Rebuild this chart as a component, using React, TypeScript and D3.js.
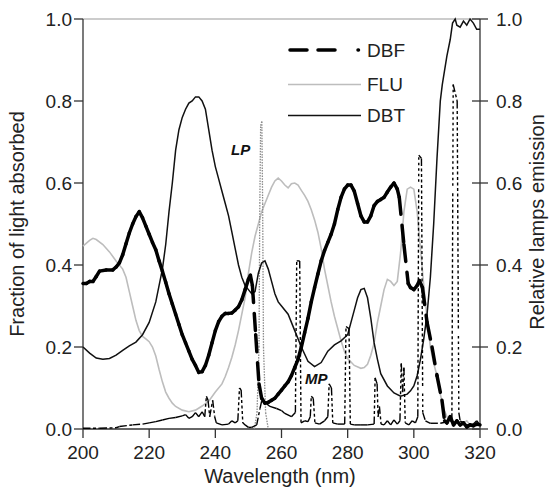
import React from "react";
import * as d3 from "d3";

// ---- data ----
const DBF_WL = [200,201,202,203,204,205,207,209,210,211,212,213,214,215,216,217,218,219,220,221,222,223,224,225,226,227,228,229,230,231,232,233,234,235,236,237,238,239,240,241,242,243,244,245,246,247,248,249,250,250.6,251.2,252.2,253.2,254,255,256,257,258,259,260,261,262,263,264,265,266,267,268,269,270,271,272,273,274,275,276,277,278,279,280,281,282,283,284,285,286,287,288,289,290,291,292,293,294,295,295.6,297,298.3,299,300,301,301.7,302.6,304,305.5,307,308.5,309.3,310,311,312,313,314,315,316,317,318,319,320];
const DBF_VAL = [0.355,0.355,0.36,0.36,0.372,0.385,0.388,0.388,0.395,0.405,0.425,0.452,0.478,0.5,0.518,0.53,0.515,0.495,0.475,0.455,0.437,0.41,0.385,0.358,0.33,0.305,0.28,0.255,0.23,0.21,0.19,0.17,0.155,0.138,0.14,0.155,0.18,0.21,0.24,0.262,0.275,0.282,0.282,0.283,0.29,0.298,0.315,0.34,0.365,0.375,0.35,0.23,0.11,0.075,0.063,0.065,0.07,0.075,0.085,0.095,0.105,0.115,0.13,0.15,0.17,0.2,0.235,0.27,0.31,0.345,0.378,0.41,0.435,0.455,0.475,0.5,0.535,0.565,0.585,0.595,0.595,0.58,0.55,0.52,0.505,0.505,0.52,0.545,0.555,0.56,0.565,0.578,0.59,0.6,0.585,0.565,0.45,0.355,0.345,0.34,0.35,0.362,0.345,0.26,0.2,0.13,0.07,0.02,0.015,0.03,0.01,0.02,0.01,0.015,0.005,0.01,0.008,0.012,0.01];

const FLU_WL = [200,202,203,204,206,208,210,212,213,214,215,216,217,218,219,220,221,222,223,224,225,226,227,228,230,232,234,236,238,240,242,243,244,245,246,247,248,249,250,251,252,253,254,255,256,257,258,259,260,261,262,263,264,265,266,267,268,269,270,271,272,273,274,275,276,277,278,279,280,282,284,285,286,287,288,289,290,291,292,293,294,295,296,297,298,299,300,301,302,303,304,305,306,307,308,309,310,311,312,313,314,315,316,317,318,319,320];
const FLU_VAL = [0.446,0.46,0.465,0.462,0.45,0.432,0.41,0.39,0.37,0.335,0.3,0.265,0.24,0.226,0.22,0.213,0.2,0.178,0.145,0.115,0.09,0.075,0.063,0.055,0.046,0.042,0.046,0.056,0.068,0.09,0.11,0.128,0.15,0.175,0.205,0.24,0.28,0.32,0.38,0.43,0.47,0.5,0.53,0.55,0.57,0.59,0.605,0.612,0.605,0.595,0.588,0.598,0.6,0.595,0.582,0.57,0.555,0.535,0.51,0.48,0.44,0.39,0.35,0.31,0.275,0.245,0.215,0.19,0.172,0.155,0.148,0.15,0.158,0.18,0.21,0.26,0.3,0.34,0.365,0.36,0.35,0.36,0.43,0.53,0.585,0.59,0.585,0.53,0.44,0.35,0.27,0.2,0.16,0.13,0.085,0.05,0.03,0.022,0.015,0.02,0.01,0.015,0.02,0.01,0.012,0.008,0.01];

const DBT_WL = [200,202,204,206,208,210,212,214,216,218,220,222,224,225,226,227,228,229,230,231,232,233,234,235,236,237,238,239,240,241,242,243,244,245,246,247,248,249,250,251,252,253,254,255,256,257,258,259,260,262,264,266,268,270,272,274,276,278,280,281,282,283,284,285,286,287,288,289,290,292,294,296,298,299,300,301,302,303,304,305,306,307,308,308.6,309,310,311,311.7,312.5,313,314,315,316,317,318,319,320];
const DBT_VAL = [0.2,0.185,0.173,0.17,0.172,0.18,0.192,0.203,0.212,0.23,0.26,0.31,0.39,0.45,0.53,0.6,0.68,0.73,0.76,0.78,0.795,0.8,0.81,0.81,0.8,0.78,0.73,0.68,0.64,0.61,0.58,0.55,0.52,0.48,0.44,0.4,0.37,0.35,0.34,0.33,0.335,0.38,0.405,0.41,0.39,0.36,0.33,0.31,0.3,0.28,0.24,0.2,0.165,0.152,0.162,0.19,0.205,0.215,0.23,0.26,0.29,0.32,0.34,0.343,0.32,0.27,0.21,0.17,0.135,0.105,0.088,0.08,0.085,0.093,0.105,0.13,0.17,0.22,0.28,0.37,0.5,0.66,0.8,0.84,0.86,0.91,0.95,0.99,1.0,0.985,0.98,0.995,0.985,1.0,0.99,0.975,0.975];

const LP_WL = [251.8,252.6,253.2,253.45,253.7,254.05,254.3,254.55,255.2,256];
const LP_VAL = [0,0.04,0.2,0.55,0.74,0.75,0.55,0.2,0.04,0];

const MP_WL = [200,205,210,211,215,218,220,222,224,226,228,230,231,232,233,234,235,236,236.8,237.3,237.8,238.3,239.2,239.8,240.3,242,244,245,246,246.8,247.3,247.8,248.3,249,250,251,252.5,253.5,254.2,255,256.5,258.5,260,261,263,264.2,264.6,265.5,265.9,267,268,268.7,269,269.6,270.1,271.5,273,274,274.4,275.1,275.5,277,279.1,279.5,280.4,280.8,282,284,286,288,288.3,288.9,289.2,289.6,290.1,291,292,293,294,295,295.8,296.2,296.6,297,297.4,298.5,299.5,300.5,301.2,301.5,302.3,302.7,303.5,305,308,311.5,311.9,313.1,313.6,314,316,318,319,320];
const MP_VAL = [0.002,0.002,0.003,0.006,0.01,0.012,0.015,0.018,0.022,0.026,0.028,0.032,0.035,0.026,0.03,0.04,0.03,0.042,0.03,0.08,0.07,0.03,0.07,0.03,0.015,0.01,0.012,0.02,0.015,0.02,0.1,0.095,0.015,0.01,0.004,0.004,0.01,0.05,0.075,0.065,0.055,0.05,0.045,0.038,0.03,0.04,0.41,0.41,0.015,0.02,0.018,0.03,0.08,0.075,0.015,0.012,0.02,0.03,0.11,0.1,0.015,0.012,0.012,0.25,0.245,0.012,0.01,0.01,0.01,0.012,0.125,0.11,0.03,0.055,0.012,0.01,0.02,0.01,0.022,0.012,0.02,0.16,0.09,0.15,0.015,0.01,0.02,0.015,0.03,0.668,0.66,0.04,0.02,0.014,0.014,0.02,0.84,0.8,0.04,0.02,0.01,0.012,0.02,0.01];

const X_TICKS = [200, 220, 240, 260, 280, 300, 320];
const Y_TICKS = [0, 0.2, 0.4, 0.6, 0.8, 1.0];
const LEGEND = ["DBF", "FLU", "DBT"];

const FONT = "'Liberation Sans', Arial, Helvetica, sans-serif";

export default function App() {
  const x = d3.scaleLinear().domain([200, 320]).range([83, 480]);
  const y = d3.scaleLinear().domain([0, 1]).range([429, 19]);
  const line = d3.line<[number, number]>().x((d) => x(d[0])).y((d) => y(d[1]));

  const full = (wl: number[], v: number[]) => line(wl.map((w, i) => [w, v[i]]) as [number, number][]) || "";
  const segs = (wl: number[], v: number[]) => {
    const out: string[] = [];
    for (let i = 0; i < wl.length - 1; i++) {
      out.push(line([[wl[i], v[i]], [wl[i + 1], v[i + 1]]]) || "");
    }
    return out;
  };

  const dbfDash = "17,11,17,23,0.5,11";
  const mpDash = [7.5].concat(Array.from({ length: 80 }, (_, i) => (i % 2 === 0 ? 2.5 : 3))).join(",");

  return (
    <svg width={549} height={487} style={{ position: "absolute", left: 0, top: 0, background: "#fff" }} fontFamily={FONT}>
      <rect x={0} y={0} width={549} height={487} fill="#fff" />
      {/* frame */}
      <line x1={83} x2={480} y1={19} y2={19} stroke="#999" strokeWidth={1.2} />
      <line x1={83} x2={83} y1={19} y2={429} stroke="#333" strokeWidth={1.3} />
      <line x1={480} x2={480} y1={19} y2={429} stroke="#333" strokeWidth={1.3} />
      <line x1={83} x2={480} y1={429} y2={429} stroke="#333" strokeWidth={1.3} />

      {/* series */}
      <path d={full(FLU_WL, FLU_VAL)} fill="none" stroke="#bdbdbd" strokeWidth={1.6} />
      {segs(LP_WL, LP_VAL).map((d, i) => (
        <path key={"lp" + i} d={d} fill="none" stroke="#8a8a8a" strokeWidth={1.3} strokeDasharray="1.5,1.2" />
      ))}
      <path d={full(DBT_WL, DBT_VAL)} fill="none" stroke="#111" strokeWidth={1.5} />
      {segs(MP_WL, MP_VAL).map((d, i) => (
        <path key={"mp" + i} d={d} fill="none" stroke="#000" strokeWidth={1.4} strokeDasharray={mpDash} />
      ))}
      {segs(DBF_WL, DBF_VAL).map((d, i) => (
        <path key={"dbf" + i} d={d} fill="none" stroke="#000" strokeWidth={3.5} strokeLinecap="round" strokeLinejoin="round" strokeDasharray={dbfDash} />
      ))}

      {/* annotations */}
      <text x={231} y={155} fontSize={15} fontWeight="bold" fontStyle="italic" fill="#111">LP</text>
      <text x={305} y={384} fontSize={15} fontWeight="bold" fontStyle="italic" fill="#111">MP</text>

      {/* left axis */}
      {Y_TICKS.map((t) => (
        <g key={"yl" + t}>
          <line x1={74} x2={83} y1={y(t)} y2={y(t)} stroke="#333" strokeWidth={1.3} />
          <text x={72} y={y(t) + 7} fontSize={19} textAnchor="end" fill="#222">{t.toFixed(1)}</text>
        </g>
      ))}
      {/* right axis */}
      {Y_TICKS.map((t) => (
        <g key={"yr" + t}>
          <line x1={472} x2={488} y1={y(t)} y2={y(t)} stroke="#333" strokeWidth={1.3} />
          <text x={496} y={y(t) + 7} fontSize={19} textAnchor="start" fill="#222">{t.toFixed(1)}</text>
        </g>
      ))}
      {/* bottom axis */}
      {X_TICKS.map((t) => (
        <g key={"x" + t}>
          <line x1={x(t)} x2={x(t)} y1={429} y2={438} stroke="#333" strokeWidth={1.3} />
          <text x={x(t)} y={459} fontSize={19} textAnchor="middle" fill="#222">{t}</text>
        </g>
      ))}

      <text x={280} y={483} fontSize={20} textAnchor="middle" fill="#222">Wavelength (nm)</text>
      <text transform="translate(24,224) rotate(-90)" fontSize={20} textAnchor="middle" fill="#222">Fraction of light absorbed</text>
      <text transform="translate(544,222) rotate(-90)" fontSize={20} textAnchor="middle" fill="#222">Relative lamps emission</text>

      {/* legend */}
      <line x1={290} x2={362} y1={50} y2={50} stroke="#000" strokeWidth={3.5} strokeLinecap="round" strokeDasharray={dbfDash} />
      <line x1={288} x2={361} y1={84.5} y2={84.5} stroke="#bdbdbd" strokeWidth={1.6} />
      <line x1={288} x2={361} y1={115.5} y2={115.5} stroke="#111" strokeWidth={1.5} />
      {LEGEND.map((name, i) => (
        <text key={name} x={367} y={[56.5, 91, 122][i]} fontSize={19} fill="#222">{name}</text>
      ))}
    </svg>
  );
}
